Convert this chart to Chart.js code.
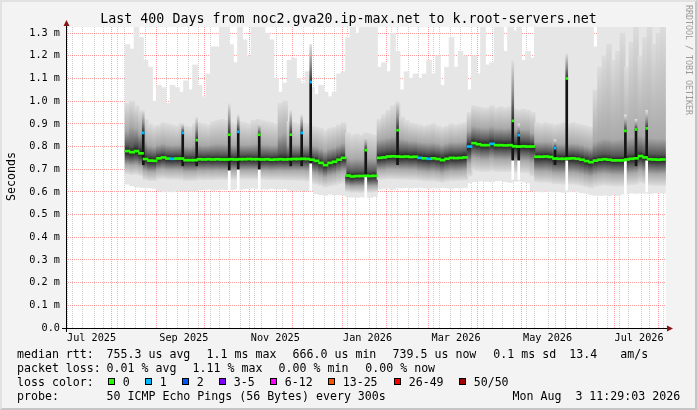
<!DOCTYPE html>
<html><head><meta charset="utf-8">
<script src="https://cdn.jsdelivr.net/npm/chart.js@4.4.1/dist/chart.umd.min.js"></script>
<style>
html,body{margin:0;padding:0;background:#f3f3f3;}
#wrap{position:relative;width:697px;height:410px;overflow:hidden;background:#f3f3f3;}
#c{position:absolute;left:0;top:0;}
#bevel{position:absolute;left:0;top:0;width:697px;height:410px;box-sizing:border-box;border-left:2px solid #e2e2e2;border-top:2px solid #e2e2e2;border-right:2px solid #c6c6c6;border-bottom:2px solid #c6c6c6;pointer-events:none;}
.t{position:absolute;font-family:"DejaVu Sans Mono",monospace;white-space:pre;line-height:0;color:#000;font-size:11.6px;}
.sq{position:absolute;width:7px;height:7px;box-sizing:border-box;border:1px solid #000;}
</style></head>
<body><div id="wrap"><canvas id="c" width="697" height="410"></canvas><div id="bevel"></div></div>
<script>
// ---- data (values in microseconds, 3-day bins starting on day 38 after 1 Jul 2025) ----
const med = [780,775,780,770,745,738,737,748,752,747, 746,747,747,740,740,740,744,743,744,743,
 744,743,743,744,743,744,744,745,744,744, 743,744,742,743,744,743,744,745,745,746,
 745,742,737,728,718,728,733,742,750,672, 668,670,670,671,670,671,750,752,756,757,
 756,755,756,754,755,750,748,746,748,745, 740,746,750,749,750,752,800,815,810,806,
 806,812,806,806,805,806,801,800,801,800, 800,755,755,756,754,747,746,746,747,748,
 746,742,736,731,738,742,744,742,739,739, 739,743,746,748,758,752,744,743,742,743];
const medLoss = [0,0,0,0,0,0,0,0,0,0, 1,0,0,0,0,0,0,0,0,0, 0,0,0,0,0,0,0,0,0,0, 0,0,0,0,0,0,0,0,0,0,
 0,0,0,0,0,0,0,0,0,0, 0,0,0,0,0,0,0,0,0,0, 0,0,0,0,0,1,0,1,0,0, 0,0,0,0,0,0,1,0,0,0,
 0,1,0,0,0,0,0,0,0,0, 0,0,0,0,0,0,0,0,0,0, 0,0,0,0,0,0,0,0,0,0, 0,0,0,0,0,0,0,0,0,0];
const maxV = [1250,1230,1330,1280,1180,1150,1000,1070,1060,990, 1070,1060,1040,1090,1050,1160,1070,1020,1120,1240,
 1240,1330,1330,1250,1170,1330,1270,1200,1330,1330, 1330,1300,1270,1100,1040,1080,1180,1190,1100,1080,
 1130,1060,1030,1070,1040,1020,1040,1120,1130,1280, 1330,1300,1330,1330,1330,1330,1150,1170,1130,1300,
 1220,1050,1130,1100,1120,1100,1120,1180,1120,1200, 1070,1150,1280,1150,1220,1200,1050,1200,1120,1330,
 1160,1170,1330,1330,1220,1330,1310,1330,1180,1220, 1190,1330,1330,1330,1330,1330,1330,1330,1330,1330,
 1330,1330,1330,1330,1240,1330,1330,1330,1330,1330, 1330,1330,1330,1330,1330,1330,1330,1330,1330,1330];
const minV = [634,628,622,620,618,617,615,605,600,602, 600,603,605,606,604,605,608,610,612,608,
 610,611,610,610,612,610,614,615,616,613, 613,612,615,613,612,614,608,606,607,605,
 606,604,592,588,585,590,586,588,585,578, 577,576,578,577,576,580,612,615,616,612,
 618,617,619,616,618,620,617,615,618,616, 619,617,615,618,616,619,640,645,648,650,
 646,644,648,650,645,642,646,648,644,640, 605,602,600,603,601,600,602,598,600,603,
 600,596,594,588,585,584,586,583,588,585, 590,592,595,593,596,594,592,596,595,594];
const hiD = [990,1000,980,960,920,900,890,895,905,900, 895,890,900,890,885,900,905,900,895,910,
 915,920,915,905,900,910,905,900,915,920, 915,910,905,900,990,1000,910,905,900,905,
 900,890,885,880,870,880,885,895,905,860, 850,855,850,860,855,850,920,940,960,980,
 990,930,915,905,900,895,890,895,900,890, 885,890,900,895,900,905,950,980,975,970,
 970,980,970,975,970,975,965,960,965,960, 950,905,900,905,900,895,900,905,900,905,
 900,895,890,885,1050,1150,1200,1250,1180,1220, 1300,1150,1260,1330,1200,1280,1330,1250,1300,1330];
const hiB = [870,890,880,860,820,805,800,808,812,808, 806,806,808,802,800,805,808,806,806,810,
 812,812,810,808,806,810,808,808,810,812, 810,808,806,806,850,860,810,810,808,810,
 808,805,800,792,782,792,797,806,815,750, 745,748,746,750,748,746,830,835,840,845,
 850,835,830,826,825,820,818,816,818,814, 808,814,820,818,820,822,870,890,886,882,
 882,888,882,882,880,882,876,875,876,875, 860,822,820,822,820,812,812,812,813,814,
 812,808,802,797,820,830,835,835,830,832, 835,835,840,842,850,845,838,836,835,836];
const hiK = [805,800,810,800,768,762,760,768,772,767, 766,767,767,760,760,761,764,763,764,763,
 764,763,763,764,763,764,764,765,764,764, 763,764,762,763,770,772,764,765,765,766,
 765,762,757,748,738,748,753,762,770,692, 688,690,690,691,690,691,778,780,784,786,
 785,782,783,780,781,776,774,772,774,771, 766,772,776,775,776,778,825,840,836,832,
 832,838,832,832,831,832,827,826,827,826, 820,778,778,779,777,770,769,769,770,771,
 769,765,759,754,761,765,767,765,762,762, 762,766,769,771,782,775,767,766,765,766];
const loK = [752,748,752,745,722,716,716,726,730,726, 725,726,726,719,719,719,723,722,723,722,
 723,722,722,723,722,723,723,724,723,723, 722,723,721,722,723,722,723,724,724,725,
 724,720,715,706,696,706,711,720,728,652, 648,650,650,651,650,651,728,730,734,735,
 734,732,733,731,732,727,725,723,725,722, 717,723,727,726,727,729,765,790,786,782,
 782,788,782,782,781,782,777,776,777,776, 770,730,730,731,729,722,721,721,722,723,
 721,717,711,706,713,717,719,717,714,714, 714,718,721,723,734,727,719,718,717,718];
const loB = [720,716,718,712,694,688,688,698,700,697, 696,697,696,690,690,690,694,693,694,693,
 694,693,693,694,694,695,695,695,695,695, 694,694,692,693,694,693,693,694,693,694,
 692,686,680,672,664,672,676,684,690,628, 624,625,625,626,625,626,695,696,700,700,
 700,698,698,697,697,692,690,688,690,687, 682,688,692,691,692,694,725,750,746,742,
 742,748,742,742,741,742,737,736,737,736, 728,692,690,691,689,683,682,682,683,684,
 682,678,672,667,674,678,680,678,675,675, 675,679,682,684,694,688,680,679,678,679];
const loD = [680,676,678,672,655,650,650,658,660,657, 656,656,655,650,650,651,655,654,655,654,
 655,655,654,656,656,657,657,657,657,656, 656,655,654,654,654,653,652,652,651,650,
 648,640,634,628,622,626,630,636,640,602, 598,598,597,598,598,600,655,656,658,658,
 657,656,656,655,655,652,650,648,649,646, 642,647,650,650,651,652,670,695,692,690,
 690,694,690,690,689,690,686,685,686,684, 670,645,643,643,641,636,635,634,634,634,
 632,628,622,618,625,628,630,628,626,626, 627,630,632,634,642,637,630,628,628,628];
// single-day spikes (day after 1 Jul 2025)
const spikeDay  = [50,76.3,85.6,107.3,113.3,127.3,148.3,155.6,161.6,198.3,219.5,296.3,300.3,324.5,332.3,371.4,378.5,385.6];
const spikeTop  = [860,860,828,852,865,852,852,860,1084,784,872,913,850,793,1100,869,875,880];
const spikeHaze = [960,900,930,990,940,900,960,940,1250,840,1000,1180,900,830,1210,940,920,960];
const spikeBase = [720,715,715,696,700,700,715,715,727,667,720,740,740,720,740,740,715,740];
const spikeGap  = [0,0,0,608,610,610,0,0,606,577,0,655,655,0,608,590,0,600];
const spikeLoss = [1,1,0,0,1,0,0,1,1,0,0,0,1,1,0,0,0,0];
// axis
const yTicks = [0,0.1,0.2,0.3,0.4,0.5,0.6,0.7,0.8,0.9,1.0,1.1,1.2,1.3];
const monthStarts = [0,31,62,92,123,153,184,215,243,274,304,335,365,396];
const labelDays = [15.5,77,138,199.5,258.5,319.5,380.5];
const labelText = ['Jul 2025','Sep 2025','Nov 2025','Jan 2026','Mar 2026','May 2026','Jul 2026'];
const lossColors = ['#26ff00','#00b8ff','#0059ff','#7e00ff','#ff00ff','#ff5500','#ff0000','#a10000'];
const lossLabels = ['0','1','2','3-5','6-12','13-25','26-49','50/50'];

// ---- build ----
const xMin = -1.522, xMax = 398.478;
const firstBinDay = 38, binDays = 3, dashHalf = 0.0045;
const binX = i => firstBinDay + binDays * (i + 0.5);
const ms = v => v / 1000;
const band = (lo, hi) => med.map((_, i) => ({x: binX(i), y: [ms(lo[i]), ms(hi[i])]}));

// vertical smoke gradient through the given percentile edges
function smokeFill(edges, colors) {
  return c => {
    const chart = c.chart;
    if (!chart.chartArea || c.type !== 'data') return colors[1];
    const i = c.dataIndex, ys = chart.scales.y;
    const px = edges.map(arr => ys.getPixelForValue(ms(arr[i])));
    const span = px[px.length - 1] - px[0];
    if (!span) return colors[0];
    const g = chart.ctx.createLinearGradient(0, px[0], 0, px[px.length - 1]);
    px.forEach((p, k) => g.addColorStop(Math.min(1, Math.max(0, (p - px[0]) / span)), colors[k]));
    return g;
  };
}
function hazeFill(c) {
  const chart = c.chart;
  if (!chart.chartArea || c.type !== 'data') return '#999';
  const i = c.dataIndex, ys = chart.scales.y;
  const g = chart.ctx.createLinearGradient(0, ys.getPixelForValue(ms(spikeTop[i])), 0, ys.getPixelForValue(ms(spikeHaze[i])));
  g.addColorStop(0, '#303030'); g.addColorStop(0.45, '#8c8c8c'); g.addColorStop(1, '#e0e0e0');
  return g;
}

const tickType = new Map();
for (let d = -1; d <= xMax; d += 7) tickType.set(d, 'week');
monthStarts.forEach(d => tickType.set(d, 'month'));
labelDays.forEach(d => tickType.set(d, 'label'));
const xTickVals = [...tickType.keys()].sort((a, b) => a - b);

const gapIdx = spikeGap.map((g, i) => i).filter(i => spikeGap[i] > 0);
const smokeColors = ['#1c1c1c', '#575757', '#a9a9a9', '#dcdcdc'];

const datasets = [
  {data: band(minV, maxV), backgroundColor: '#e6e6e6', order: 10, barThickness: 5},
  {data: band(med, hiD), backgroundColor: smokeFill([med, hiK, hiB, hiD], smokeColors), order: 9, barThickness: 5},
  {data: band(loD, med), backgroundColor: smokeFill([med, loK, loB, loD], smokeColors), order: 8, barThickness: 5},
  {data: spikeDay.map((d, i) => ({x: d, y: [ms(spikeTop[i]), ms(spikeHaze[i])]})), backgroundColor: hazeFill, order: 6, barThickness: 2},
  {data: gapIdx.map(i => ({x: spikeDay[i], y: [ms(spikeGap[i]), ms(spikeBase[i])]})), backgroundColor: '#ffffff', order: 5, barThickness: 2},
  {data: spikeDay.map((d, i) => ({x: d, y: [ms(spikeBase[i]), ms(spikeTop[i])]})), backgroundColor: '#151515', order: 4, barThickness: 2},
  {data: med.map((m, i) => ({x: binX(i), y: [ms(m) - dashHalf, ms(m) + dashHalf]})), backgroundColor: med.map((m, i) => lossColors[medLoss[i]]), order: 2, barThickness: 5},
  {data: spikeDay.map((d, i) => ({x: d, y: [ms(spikeTop[i]) - dashHalf, ms(spikeTop[i]) + dashHalf]})), backgroundColor: spikeLoss.map(l => lossColors[l]), order: 1, barThickness: 2}
];

const frame = {
  id: 'frame',
  beforeDraw(chart) {
    const {ctx, chartArea: a} = chart;
    ctx.save(); ctx.fillStyle = '#ffffff';
    ctx.fillRect(a.left, a.top, a.right - a.left, a.bottom - a.top);
    ctx.restore();
  },
  afterDraw(chart) {
    const {ctx, chartArea: a} = chart;
    ctx.save();
    ctx.strokeStyle = '#000'; ctx.lineWidth = 1;
    ctx.beginPath(); ctx.moveTo(a.left + 0.5, a.bottom + 4); ctx.lineTo(a.left + 0.5, a.top - 4); ctx.stroke();
    ctx.beginPath(); ctx.moveTo(a.left - 4, a.bottom + 0.5); ctx.lineTo(a.right + 4, a.bottom + 0.5); ctx.stroke();
    ctx.fillStyle = '#8a1414';
    ctx.beginPath(); ctx.moveTo(a.left + 0.5, a.top - 7); ctx.lineTo(a.left - 2.5, a.top - 1); ctx.lineTo(a.left + 3.5, a.top - 1); ctx.closePath(); ctx.fill();
    ctx.beginPath(); ctx.moveTo(a.right + 7, a.bottom + 0.5); ctx.lineTo(a.right + 1, a.bottom - 2.5); ctx.lineTo(a.right + 1, a.bottom + 3.5); ctx.closePath(); ctx.fill();
    ctx.restore();
  }
};

new Chart(document.getElementById('c'), {
  type: 'bar',
  data: {datasets},
  options: {
    responsive: false, animation: false, devicePixelRatio: 1, events: [],
    layout: {padding: {left: 0, top: 27, right: 31, bottom: 0}},
    datasets: {bar: {grouped: false, borderWidth: 0, categoryPercentage: 1, barPercentage: 1}},
    plugins: {legend: {display: false}, tooltip: {enabled: false}, title: {display: false}},
    scales: {
      x: {
        type: 'linear', min: xMin, max: xMax, offset: false, z: 1,
        afterBuildTicks: s => { s.ticks = xTickVals.map(v => ({value: v})); },
        afterFit: s => { s.height = 82; },
        border: {display: false, dash: [1, 1]},
        grid: {drawTicks: false, lineWidth: 1,
          color: c => { const t = tickType.get(c.tick && c.tick.value);
            return t === 'month' ? 'rgba(255,0,0,0.38)' : t === 'week' ? 'rgba(128,128,128,0.38)' : 'rgba(0,0,0,0)'; }},
        ticks: {autoSkip: false, maxRotation: 0, minRotation: 0, padding: 4, color: '#000',
          font: {family: 'DejaVu Sans Mono', size: 10.2},
          callback: v => { const k = labelDays.indexOf(v); return k >= 0 ? labelText[k] : ''; }}
      },
      y: {
        type: 'linear', min: 0, max: 1.327, z: 1,
        afterBuildTicks: s => { s.ticks = yTicks.map(v => ({value: v})); },
        afterFit: s => { s.width = 66; },
        border: {display: false, dash: [1, 1]},
        grid: {drawTicks: false, lineWidth: 1, color: 'rgba(255,0,0,0.38)'},
        ticks: {padding: 6, color: '#000', font: {family: 'DejaVu Sans Mono', size: 10.2},
          callback: v => v === 0 ? '0.0' : v.toFixed(1) + ' m'}
      }
    }
  },
  plugins: [frame]
});

// ---- texts ----
const wrap = document.getElementById('wrap');
function txt(x, base, s, size, extra) {
  const d = document.createElement('div');
  d.className = 't'; d.textContent = s;
  const fs = size || 11.6;
  d.style.fontSize = fs + 'px';
  d.style.left = x + 'px'; d.style.top = (base - 0.346 * fs) + 'px';
  if (extra) Object.assign(d.style, extra);
  wrap.appendChild(d); return d;
}
txt(0, 24, 'Last 400 Days from noc2.gva20.ip-max.net to k.root-servers.net', 13.3, {width: '697px', textAlign: 'center'});
const rows = [
  [358.5, [[17,'median rtt:'],[106.6,'755.3 us avg'],[206.6,'1.1 ms max'],[292.6,'666.0 us min'],[392.6,'739.5 us now'],[493.3,'0.1 ms sd'],[569.3,'13.4'],[620.3,'am/s']]],
  [372.2, [[17,'packet loss:'],[106.6,'0.01 % avg'],[192.6,'1.11 % max'],[278.6,'0.00 % min'],[365.3,'0.00 % now']]],
  [385.9, [[17,'loss color:']]],
  [399.6, [[17,'probe:'],[106.6,'50 ICMP Echo Pings (56 Bytes) every 300s'],[512.6,'Mon Aug  3 11:29:03 2026']]]
];
rows.forEach(([b, items]) => items.forEach(([x, s]) => txt(x, b, s)));
const sqX = [107.7,144.7,181.7,218.7,269.7,327.7,393.7,458.7];
sqX.forEach((x, i) => {
  const q = document.createElement('div'); q.className = 'sq';
  q.style.left = x + 'px'; q.style.top = '378px'; q.style.background = lossColors[i];
  wrap.appendChild(q);
  txt(x + 15, 385.9, lossLabels[i]);
});
// rotated unit label and watermark
txt(11.3, 201, 'Seconds', 11.6, {top: '201px', transformOrigin: '0 0', transform: 'rotate(-90deg)'});
txt(689, 5, 'RRDTOOL / TOBI OETIKER', 8.3, {top: '5px', color: '#9a9a9a', transformOrigin: '0 0', transform: 'rotate(90deg)'});
</script>
</body></html>
